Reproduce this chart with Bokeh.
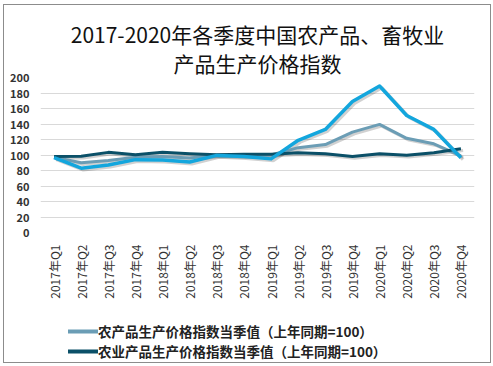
from bokeh.plotting import figure
from bokeh.models import Title, Legend, LegendItem, ColumnDataSource, FactorRange, Range1d
from bokeh.layouts import column
from bokeh.transform import dodge
from bokeh.embed import file_html
from bokeh.resources import INLINE
import math

quarters = ["2017年Q1", "2017年Q2", "2017年Q3", "2017年Q4",
            "2018年Q1", "2018年Q2", "2018年Q3", "2018年Q4",
            "2019年Q1", "2019年Q2", "2019年Q3", "2019年Q4",
            "2020年Q1", "2020年Q2", "2020年Q3", "2020年Q4"]
agri_products = [97, 90, 93, 97, 98, 96, 100, 99, 100, 109.5, 113.5, 129.5, 139.5, 121.5, 114.5, 99]
farming_products = [98, 98.3, 103.4, 100.4, 103.4, 101.7, 100.4, 101, 101, 103, 101.7, 98, 101.7, 99.6, 103, 108]
livestock_products = [96.5, 83, 87, 94, 93.5, 91, 99.5, 98, 95, 119, 133, 169, 189, 151, 133, 96.5]

series_names = ["农产品生产价格指数当季值（上年同期=100）",
                "农业产品生产价格指数当季值（上年同期=100）",
                "畜牧业产品生产价格指数当季值（上年同期=100）"]
y_ticks = [0, 20, 40, 60, 80, 100, 120, 140, 160, 180, 200]
title_lines = ["2017-2020年各季度中国农产品、畜牧业", "产品生产价格指数"]

src = ColumnDataSource(dict(q=quarters, a=agri_products, f=farming_products, l=livestock_products))

FONT = "Noto Sans CJK SC"
W = 486
p = figure(width=W, height=300, x_range=FactorRange(*quarters), y_range=(0, 200),
           output_backend="svg", toolbar_location=None,
           min_border_left=36, min_border_right=16, min_border_top=72, min_border_bottom=73)
p.title = None
t2 = Title(text=title_lines[1], align="center", text_font=FONT, text_font_size="21px",
           text_font_style="normal", text_color="#111111", standoff=0)
t1 = Title(text=title_lines[0], align="center", text_font=FONT, text_font_size="21px",
           text_font_style="normal", text_color="#111111", standoff=-6)
p.add_layout(t2, "above")
p.add_layout(t1, "above")

p.outline_line_color = None
p.xgrid.grid_line_color = None
p.ygrid.grid_line_color = "#d9d9d9"
p.ygrid.grid_line_width = 1
p.yaxis.ticker = y_ticks

for ax in (p.xaxis, p.yaxis):
    ax.axis_line_color = None
    ax.major_tick_line_color = None
    ax.minor_tick_line_color = None
    ax.major_label_text_font = FONT
    ax.major_label_text_color = "#333333"
p.yaxis.major_label_text_font_size = "11px"
p.xaxis.major_label_text_font_size = "12px"
p.yaxis.major_label_text_font_style = "bold"
p.yaxis.major_label_standoff = 5
p.xaxis.major_label_orientation = math.pi / 2
p.xaxis.major_label_standoff = 6
p.x_range.range_padding = 0

cols = ["#6b9db5", "#0b5068", "#13a6dd"]
keys = ["a", "f", "l"]
widths = [3, 3, 3.5]
for k, c, w in zip(keys, cols, widths):
    p.line(x=dodge("q", 0.08, range=p.x_range), y=dodge(k, -2.2), source=src,
           line_color="#000000", line_alpha=0.18, line_width=w)
for k, c, w in zip(keys, cols, widths):
    p.line(x="q", y=k, source=src, line_color=c, line_width=w, line_join="round")

# legend strip below the chart (series drawn out of its view, only their legend samples show)
lg = figure(width=W, height=57, x_range=FactorRange(*quarters), y_range=Range1d(1000, 1001),
            x_axis_type=None, y_axis_type=None, output_backend="svg",
            toolbar_location=None, min_border=0)
lg.outline_line_color = None
lg.grid.visible = False
r0 = lg.line(x="q", y="a", source=src, line_color=cols[0], line_width=4, line_cap="round")
r1 = lg.line(x="q", y="f", source=src, line_color=cols[1], line_width=4, line_cap="round")
legend = Legend(items=[LegendItem(label=series_names[0], renderers=[r0]),
                       LegendItem(label=series_names[1], renderers=[r1])],
                location=(28, 1), orientation="vertical")
legend.label_text_font = FONT
legend.label_text_font_size = "13.5px"
legend.label_text_font_style = "bold"
legend.label_text_color = "#222222"
legend.glyph_width = 30
legend.glyph_height = 14
legend.label_height = 14
legend.label_standoff = 0
legend.spacing = 0
legend.padding = 0
legend.margin = 0
legend.border_line_color = None
legend.background_fill_alpha = 0
lg.add_layout(legend, "center")

layout = column(p, lg, spacing=0)
layout.styles = {"border": "1px solid #8c8c8c", "margin-left": "3px", "margin-top": "4px"}

open("out.html", "w").write(file_html(layout, INLINE))
